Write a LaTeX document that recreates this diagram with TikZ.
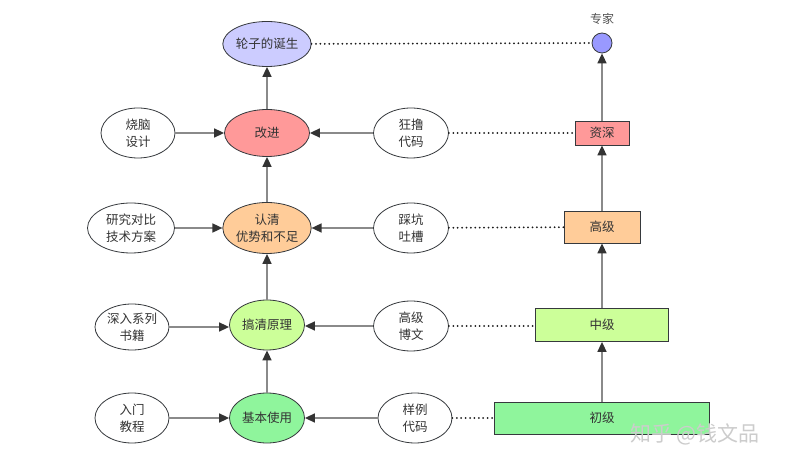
\documentclass[tikz,border=0pt]{standalone}
\usepackage{fontspec}
\setmainfont{Noto Sans CJK SC}
\usepackage{xcolor}
\usetikzlibrary{shapes.geometric,arrows.meta,positioning}

\definecolor{txtgray}{HTML}{333333}
\definecolor{edgegray}{HTML}{36393D}
\definecolor{linegray}{HTML}{8A8A8A}
\definecolor{lavender}{HTML}{CCCCFF}
\definecolor{bluedot}{HTML}{9999FF}
\definecolor{redfill}{HTML}{FF9999}
\definecolor{orangefill}{HTML}{FFCC99}
\definecolor{limefill}{HTML}{CCFF99}
\definecolor{greenfill}{HTML}{8FF59C}

\tikzset{
    oval/.style={ellipse, draw=edgegray, line width=0.8bp, inner sep=0pt,
        minimum width=75bp, minimum height=50bp, align=center, text=txtgray,
        font=\fontsize{12.5bp}{17bp}\selectfont},
    level/.style={rectangle, draw=edgegray, line width=0.8bp, inner sep=0pt,
        minimum height=32bp, text=txtgray, font=\fontsize{12.5bp}{15bp}\selectfont},
    flow/.style={draw=linegray, line width=1.6bp,
        -{Triangle[length=10bp,width=9bp,color=black!80]}},
    link/.style={draw=black!90, line width=2bp, line cap=round,
        dash pattern=on 0bp off 4.4bp}
}

\begin{document}
\begin{tikzpicture}[x=1bp, y=-1bp]
    \useasboundingbox[fill=white] (0,0) rectangle (789,468);

    % middle column
    \node[oval, fill=lavender, minimum width=88bp, minimum height=45bp] (wheel) at (267,44) {轮子的诞生};
    \node[oval, fill=redfill, minimum width=85bp, minimum height=47bp] (improve) at (267,133) {改进};
    \node[oval, fill=orangefill, minimum width=85bp, minimum height=51bp] (aware) at (267,228) {认清\\优势和不足};
    \node[oval, fill=limefill] (principle) at (267,325) {搞清原理};
    \node[oval, fill=greenfill] (basic) at (267,418) {基本使用};

    % left column
    \node[oval, minimum width=74bp] (design) at (138,133) {烧脑\\设计};
    \node[oval, minimum width=87bp] (compare) at (131,228) {研究对比\\技术方案};
    \node[oval, minimum width=74bp, minimum height=46bp] (books) at (132,327) {深入系列\\书籍};
    \node[oval, minimum width=74bp] (intro) at (132,418) {入门\\教程};

    % right column
    \node[oval] (coding) at (411,133) {狂撸\\代码};
    \node[oval] (pitfall) at (411,228) {踩坑\\吐槽};
    \node[oval] (blog) at (411,326) {高级\\博文};
    \node[oval, minimum width=74bp] (sample) at (415,418) {样例\\代码};

    % levels
    \node[circle, draw=edgegray, line width=0.8bp, fill=bluedot, minimum size=20bp, inner sep=0pt] (expert) at (602,43) {};
    \node[text=txtgray!85, font=\fontsize{12bp}{14bp}\selectfont, above=5bp of expert] (expertlbl) {专家};
    \node[level, fill=redfill, minimum width=54bp, minimum height=24bp] (senior) at (602,133) {资深};
    \node[level, fill=orangefill, minimum width=76bp] (high) at (602,227) {高级};
    \node[level, fill=limefill, minimum width=133bp, minimum height=33bp] (mid) at (602,325) {中级};
    \node[level, fill=greenfill, minimum width=215bp] (junior) at (602,418) {初级};

    % arrows
    \draw[flow] (improve) -- (wheel);
    \draw[flow] (aware) -- (improve);
    \draw[flow] (principle) -- (aware);
    \draw[flow] (basic) -- (principle);
    \draw[flow] (design) -- (improve);
    \draw[flow] (compare) -- (aware);
    \draw[flow] (books.east) -- (principle.west |- books.east);
    \draw[flow] (intro) -- (basic);
    \draw[flow] (coding) -- (improve);
    \draw[flow] (pitfall) -- (aware);
    \draw[flow] (blog.west) -- (principle.east |- blog.west);
    \draw[flow] (sample) -- (basic);
    \draw[flow] (junior) -- (mid);
    \draw[flow] (mid) -- (high);
    \draw[flow] (high) -- (senior);
    \draw[flow] (senior) -- (expert);

    % dotted links
    \draw[link] (wheel) -- (expert);
    \draw[link] (coding) -- (senior);
    \draw[link] (pitfall) -- (high);
    \draw[link] (blog) -- (mid.west |- blog.east);
    \draw[link] (sample) -- (junior);

    \node[text=black!20, font=\fontsize{21bp}{23bp}\selectfont] (mark) at (695,434) {知乎 @钱文品};
\end{tikzpicture}
\end{document}
